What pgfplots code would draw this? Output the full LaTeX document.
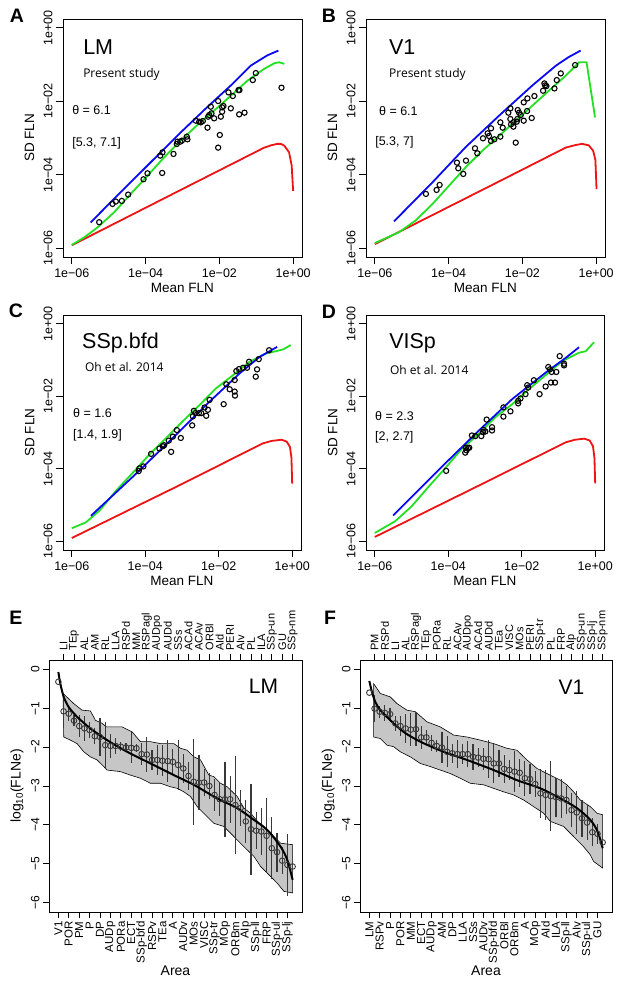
\documentclass[border=0pt]{standalone}
\usepackage{fontspec}
\setmainfont{Liberation Sans}
\newfontfamily\opensans{Open Sans}
\usepackage{pgfplots}
\usepackage{pgfplotstable}
\pgfplotsset{compat=1.18}

\definecolor{rblue}{HTML}{0A0AF0}
\definecolor{rgreen}{HTML}{22E022}
\definecolor{rred}{HTML}{EE1414}
\definecolor{bandgray}{HTML}{C6C6C6}
\definecolor{bargray}{HTML}{383838}

% log10 mean FLN vs log10 SD FLN, one table per panel
\pgfplotstableread{
x y
-5.259 -5.293
-4.898 -4.795
-4.807 -4.731
-4.645 -4.713
-4.473 -4.541
-4.057 -4.124
-3.949 -3.961
-3.551 -3.952
-3.605 -3.480
-3.542 -3.390
-3.244 -3.435
-3.154 -3.163
-3.136 -3.100
-3.063 -3.100
-3.018 -3.073
-2.883 -2.964
-2.865 -3.036
-2.639 -2.529
-2.548 -2.556
-2.503 -2.574
-2.449 -2.538
-2.322 -2.719
-2.304 -2.420
-2.277 -2.375
-2.232 -2.148
-2.214 -2.329
-2.142 -2.465
-2.033 -1.994
-1.988 -2.918
-2.033 -3.263
-1.961 -2.420
-1.925 -2.284
-1.925 -2.166
-1.889 -2.130
-1.753 -1.758
-1.690 -2.193
-1.636 -1.858
-1.482 -1.695
-1.455 -1.695
-1.464 -2.357
-1.319 -2.311
-1.094 -1.423
-1.012 -1.233
-0.316 -1.631
}\ptsA
\pgfplotstableread{
x y
-4.615 -4.523
-4.326 -4.414
-4.244 -4.278
-3.774 -3.671
-3.738 -3.825
-3.602 -3.979
-3.529 -3.616
-3.285 -3.281
-3.222 -3.417
-3.068 -3.009
-2.941 -2.873
-2.905 -2.946
-2.851 -2.737
-2.851 -3.082
-2.760 -3.036
-2.597 -2.574
-2.597 -2.964
-2.534 -2.719
-2.380 -2.311
-2.326 -2.193
-2.326 -2.483
-2.308 -2.628
-2.244 -2.692
-2.244 -2.574
-2.154 -2.556
-2.181 -3.127
-2.136 -2.483
-2.127 -2.239
-2.090 -2.311
-2.045 -2.375
-1.964 -2.030
-1.964 -2.529
-1.864 -1.922
-1.873 -2.266
-1.747 -2.456
-1.674 -1.858
-1.439 -1.713
-1.403 -1.514
-1.385 -1.568
-1.348 -1.586
-1.131 -1.650
-1.068 -1.423
-0.959 -1.242
-0.570 -1.015
}\ptsB
\pgfplotstableread{
x y
-4.179 -4.064
-4.161 -3.991
-4.052 -3.936
-3.842 -3.589
-3.614 -3.443
-3.523 -3.379
-3.487 -3.352
-3.360 -3.224
-3.296 -3.534
-3.250 -3.114
-3.141 -2.932
-3.032 -3.151
-2.722 -2.804
-2.704 -2.557
-2.677 -2.402
-2.631 -2.466
-2.540 -2.466
-2.476 -2.466
-2.385 -2.311
-2.340 -2.539
-2.294 -2.374
-2.249 -2.100
-1.866 -2.219
-1.793 -1.671
-1.702 -1.808
-1.566 -1.553
-1.566 -1.872
-1.557 -1.982
-1.520 -1.306
-1.448 -1.251
-1.338 -1.215
-1.229 -1.215
-1.174 -1.050
-0.992 -1.461
-0.956 -1.260
-0.910 -0.977
-0.628 -0.731
}\ptsC
\pgfplotstableread{
x y
-4.058 -4.058
-3.538 -3.556
-3.520 -3.419
-3.502 -3.492
-3.465 -3.428
-3.429 -3.419
-3.356 -3.082
-3.264 -3.100
-3.100 -3.100
-3.055 -2.991
-3.037 -2.927
-2.991 -2.973
-2.955 -2.644
-2.809 -2.854
-2.809 -2.945
-2.499 -2.307
-2.499 -2.562
-2.307 -2.416
-2.097 -2.198
-2.097 -2.125
-2.034 -2.061
-1.897 -1.942
-1.851 -1.696
-1.824 -1.760
-1.669 -1.559
-1.514 -1.942
-1.350 -1.732
-1.277 -1.194
-1.231 -1.258
-1.204 -1.623
-1.186 -1.331
-1.094 -1.623
-1.058 -1.331
-0.967 -0.894
-0.848 -1.149
-0.848 -1.103
}\ptsD
% rank, log10 FLNe, half length of the bar
\pgfplotstableread{
x y e
1 -0.32 0.00
2 -1.08 0.43
3 -1.14 0.20
4 -1.32 0.15
5 -1.46 0.28
6 -1.52 0.32
7 -1.56 0.20
8 -1.72 0.20
9 -1.74 0.50
10 -1.95 0.60
11 -1.97 0.30
12 -1.97 0.20
13 -1.99 0.12
14 -2.01 0.12
15 -2.02 0.40
16 -2.03 0.10
17 -2.18 0.28
18 -2.19 0.45
19 -2.33 0.26
20 -2.33 0.38
21 -2.35 0.40
22 -2.36 0.53
23 -2.38 0.34
24 -2.46 0.64
25 -2.55 0.38
26 -2.74 0.36
27 -2.89 1.10
28 -2.91 0.70
29 -2.91 0.35
30 -3.00 0.34
31 -3.23 0.40
32 -3.34 0.42
33 -3.34 0.96
34 -3.34 0.60
35 -3.49 1.26
36 -3.57 0.47
37 -3.91 0.55
38 -4.11 1.17
39 -4.15 0.47
40 -4.17 0.60
41 -4.28 0.96
42 -4.60 0.80
43 -4.70 0.50
44 -4.92 0.35
45 -5.03 0.80
46 -5.07 0.00
}\rankLM
\pgfplotstableread{
x y e
1 -0.60 0.00
2 -1.01 0.35
3 -1.09 0.15
4 -1.12 0.20
5 -1.15 0.15
6 -1.39 0.20
7 -1.46 0.25
8 -1.52 0.38
9 -1.55 0.43
10 -1.54 0.43
11 -1.75 0.30
12 -1.75 0.20
13 -1.89 0.20
14 -1.97 0.15
15 -2.01 0.40
16 -2.12 0.40
17 -2.16 0.25
18 -2.18 0.36
19 -2.18 0.25
20 -2.18 0.34
21 -2.25 0.34
22 -2.27 0.25
23 -2.30 0.28
24 -2.31 0.49
25 -2.42 0.49
26 -2.42 0.34
27 -2.56 0.36
28 -2.59 0.26
29 -2.63 0.53
30 -2.66 0.36
31 -2.80 0.45
32 -2.82 0.38
33 -2.95 0.34
34 -3.19 0.64
35 -3.23 0.64
36 -3.26 0.90
37 -3.29 0.50
38 -3.32 0.50
39 -3.36 0.36
40 -3.62 0.43
41 -3.68 0.55
42 -3.83 0.47
43 -3.94 0.45
44 -4.19 0.36
45 -4.23 0.25
46 -4.45 0.00
}\rankVone

\pgfplotsset{
  flnpanel/.style={
    scale only axis, anchor=north west,
    xmin=-6.24, xmax=0.24, ymin=-6.24, ymax=0.24,
    xtick={-6,-4,-2,0}, ytick={-6,-4,-2,0},
    xticklabels={1e−06,1e−04,1e−02,1e+00},
    yticklabels={1e−06,1e−04,1e−02,1e+00},
    tick pos=left, tick align=outside, major tick length=7pt,
    tick style={black, line width=0.8pt},
    axis line style={line width=0.8pt},
    ticklabel style={font=\fontsize{12.5}{14}\selectfont},
    xticklabel style={yshift=-1.5pt},
    yticklabel style={rotate=90, anchor=south},
    label style={font=\fontsize{13.5}{15}\selectfont},
    xlabel={Mean FLN}, ylabel={SD FLN},
    xlabel style={at={(axis description cs:0.5,-0.13)}, anchor=center},
    ylabel style={at={(axis description cs:-0.14,0.5)}, anchor=center},
  },
  curve/.style={#1, line width=1.8pt},
  flnpts/.style={only marks, mark=o, mark size=2.6pt,
    mark options={black, line width=1.1pt}},
  rankpanel/.style={
    scale only axis, anchor=north west,
    xmin=-0.8, xmax=47.8, ymin=-6.24, ymax=0.24,
    ytick={-6,-5,-4,-3,-2,-1,0},
    yticklabels={−6,−5,−4,−3,−2,−1,0},
    xtick={1,3,...,45},
    tick pos=left, tick align=outside, major tick length=6pt,
    tick style={black, line width=0.8pt},
    axis line style={line width=0.8pt},
    xticklabel style={rotate=90, anchor=east, font=\fontsize{11.5}{12}\selectfont},
    yticklabel style={rotate=90, anchor=south, font=\fontsize{12}{13}\selectfont},
    label style={font=\fontsize{14}{16}\selectfont},
    xlabel={Area}, ylabel={log\textsubscript{10}(FLNe)},
    xlabel style={at={(axis description cs:0.5,-0.234)}, anchor=center},
    ylabel style={at={(axis description cs:-0.126,0.5)}, anchor=center},
  },
  toplabels/.style={
    scale only axis, anchor=north west,
    xmin=-0.8, xmax=47.8, ymin=-6.24, ymax=0.24,
    hide y axis, axis x line*=top, axis line style={-, line width=0.8pt},
    xtick={2,4,...,46}, tick align=outside, major tick length=6pt,
    tick style={black, line width=0.8pt},
    xticklabel style={rotate=90, anchor=west, font=\fontsize{11}{12}\selectfont},
  },
  rankpts/.style={only marks, mark=o, mark size=2.8pt,
    mark options={bargray, line width=0.9pt},
    error bars/.cd, y dir=both, y explicit, error mark=none,
    error bar style={bargray, line width=1.2pt}},
}

\begin{document}
\begin{tikzpicture}
\useasboundingbox (0pt,0pt) rectangle (624pt,983pt);

% ---- A
\begin{axis}[flnpanel, at={(63pt,964pt)}, width=239pt, height=238pt]
\addplot[curve=rred] coordinates {(-6.00,-5.92) (-3.00,-4.39) (-0.80,-3.27) (-0.60,-3.20) (-0.43,-3.16) (-0.33,-3.16) (-0.24,-3.21) (-0.11,-3.39) (-0.04,-3.75) (0.00,-4.44)};
\addplot[curve=rgreen] coordinates {(-6.00,-5.91) (-5.67,-5.71) (-5.31,-5.44) (-4.86,-5.03) (-4.41,-4.53) (-3.95,-4.03) (-3.50,-3.53) (-3.05,-3.07) (-2.60,-2.65) (-2.14,-2.25) (-1.69,-1.85) (-1.24,-1.44) (-0.79,-1.12) (-0.50,-0.96) (-0.38,-0.94) (-0.24,-0.98)};
\addplot[curve=rblue] coordinates {(-5.49,-5.30) (-4.86,-4.66) (-3.95,-3.75) (-3.05,-2.85) (-2.33,-2.16) (-1.69,-1.57) (-1.15,-1.03) (-0.70,-0.75) (-0.40,-0.62)};
\addplot[flnpts] table {\ptsA};
\node[anchor=west, inner sep=0pt, font=\fontsize{21.5}{24}\selectfont] at (axis description cs:0.084,0.882) {LM};
\node[anchor=west, inner sep=0pt, font=\opensans\fontsize{12}{14}\selectfont] at (axis description cs:0.084,0.769) {Present study};
\node[anchor=west, inner sep=0pt, font=\fontsize{12.5}{14}\selectfont] at (axis description cs:0.038,0.618) {θ = 6.1};
\node[anchor=west, inner sep=0pt, font=\fontsize{12.5}{14}\selectfont] at (axis description cs:0.038,0.479) {[5.3, 7.1]};
\end{axis}

% ---- B
\begin{axis}[flnpanel, at={(366pt,964pt)}, width=239pt, height=238pt]
\addplot[curve=rred] coordinates {(-6.00,-5.89) (-3.00,-4.37) (-0.82,-3.26) (-0.55,-3.19) (-0.38,-3.16) (-0.20,-3.20) (-0.08,-3.35) (-0.02,-3.60) (0.01,-4.39)};
\addplot[curve=rgreen] coordinates {(-6.00,-5.86) (-5.35,-5.57) (-4.90,-5.25) (-4.44,-4.80) (-3.99,-4.30) (-3.54,-3.80) (-3.09,-3.35) (-2.63,-2.94) (-2.18,-2.53) (-1.73,-2.12) (-1.28,-1.71) (-0.82,-1.30) (-0.60,-1.08) (-0.46,-0.94) (-0.26,-0.94) (-0.03,-2.44)};
\addplot[curve=rblue] coordinates {(-5.48,-5.27) (-4.44,-4.21) (-3.54,-3.25) (-2.63,-2.39) (-1.73,-1.57) (-1.09,-1.03) (-0.75,-0.80) (-0.42,-0.62)};
\addplot[flnpts] table {\ptsB};
\node[anchor=west, inner sep=0pt, font=\fontsize{21.5}{24}\selectfont] at (axis description cs:0.096,0.882) {V1};
\node[anchor=west, inner sep=0pt, font=\opensans\fontsize{12}{14}\selectfont] at (axis description cs:0.096,0.769) {Present study};
\node[anchor=west, inner sep=0pt, font=\fontsize{12.5}{14}\selectfont] at (axis description cs:0.054,0.613) {θ = 6.1};
\node[anchor=west, inner sep=0pt, font=\fontsize{12.5}{14}\selectfont] at (axis description cs:0.038,0.483) {[5.3, 7]};
\end{axis}

% ---- C
\begin{axis}[flnpanel, at={(63pt,668pt)}, width=238pt, height=235pt]
\addplot[curve=rred] coordinates {(-6.00,-5.91) (-3.00,-4.42) (-0.80,-3.30) (-0.55,-3.23) (-0.29,-3.20) (-0.15,-3.25) (-0.06,-3.40) (-0.02,-3.70) (0.00,-4.41)};
\addplot[curve=rgreen] coordinates {(-6.00,-5.64) (-5.62,-5.48) (-5.25,-5.16) (-4.80,-4.61) (-4.34,-4.11) (-3.89,-3.61) (-3.43,-3.15) (-2.98,-2.69) (-2.52,-2.24) (-2.07,-1.78) (-1.61,-1.42) (-1.16,-1.05) (-0.70,-0.82) (-0.25,-0.71) (-0.04,-0.59)};
\addplot[curve=rblue] coordinates {(-5.48,-5.30) (-4.16,-4.05) (-3.16,-3.06) (-2.25,-2.15) (-1.43,-1.37) (-0.88,-0.91) (-0.41,-0.64)};
\addplot[flnpts] table {\ptsC};
\node[anchor=west, inner sep=0pt, font=\fontsize{21.5}{24}\selectfont] at (axis description cs:0.080,0.881) {SSp.bfd};
\node[anchor=west, inner sep=0pt, font=\opensans\fontsize{12}{14}\selectfont] at (axis description cs:0.092,0.779) {Oh et al. 2014};
\node[anchor=west, inner sep=0pt, font=\fontsize{12.5}{14}\selectfont] at (axis description cs:0.042,0.583) {θ = 1.6};
\node[anchor=west, inner sep=0pt, font=\fontsize{12.5}{14}\selectfont] at (axis description cs:0.042,0.489) {[1.4, 1.9]};
\end{axis}

% ---- D
\begin{axis}[flnpanel, at={(366pt,668pt)}, width=238pt, height=235pt]
\addplot[curve=rred] coordinates {(-6.00,-5.88) (-3.00,-4.38) (-0.80,-3.27) (-0.55,-3.20) (-0.30,-3.17) (-0.15,-3.22) (-0.06,-3.38) (-0.02,-3.70) (0.00,-4.40)};
\addplot[curve=rgreen] coordinates {(-6.00,-5.77) (-5.45,-5.45) (-5.00,-5.04) (-4.54,-4.50) (-4.09,-3.99) (-3.63,-3.45) (-3.17,-3.04) (-2.72,-2.58) (-2.26,-2.22) (-1.81,-1.81) (-1.35,-1.42) (-0.89,-1.03) (-0.44,-0.80) (-0.26,-0.76) (-0.03,-0.51)};
\addplot[curve=rblue] coordinates {(-5.50,-5.29) (-4.09,-3.86) (-3.17,-2.95) (-2.26,-2.08) (-1.35,-1.35) (-0.80,-0.94) (-0.44,-0.65)};
\addplot[flnpts] table {\ptsD};
\node[anchor=west, inner sep=0pt, font=\fontsize{21.5}{24}\selectfont] at (axis description cs:0.097,0.881) {VISp};
\node[anchor=west, inner sep=0pt, font=\opensans\fontsize{12}{14}\selectfont] at (axis description cs:0.100,0.766) {Oh et al. 2014};
\node[anchor=west, inner sep=0pt, font=\fontsize{12.5}{14}\selectfont] at (axis description cs:0.038,0.570) {θ = 2.3};
\node[anchor=west, inner sep=0pt, font=\fontsize{12.5}{14}\selectfont] at (axis description cs:0.038,0.481) {[2, 2.7]};
\end{axis}

% ---- E
\begin{axis}[rankpanel, at={(49pt,323pt)}, width=253pt, height=252pt,
  xticklabels={V1,POR,PM,P,DP,AUDp,PORa,ECT,SSp-bfd,RSPv,TEa,A,AUDv,MOs,VISC,SSp-tr,MOp,ORBm,AIp,SSp-ll,FRP,SSp-ul,SSp-lj}]
\addplot[fill=bandgray, draw=black, line width=0.6pt] coordinates {
(1.90,-0.62) (3.95,-0.88) (5.55,-1.05) (7.15,-1.07) (8.12,-1.31) (9.40,-1.39) (10.23,-1.48) (13.24,-1.48) (15.17,-1.61) (16.77,-1.86) (18.69,-1.86) (20.62,-1.91) (23.18,-1.91) (24.46,-2.03) (25.74,-2.08) (27.03,-2.25) (28.31,-2.33) (29.91,-2.72) (30.87,-2.76) (32.15,-2.93) (33.44,-3.02) (35.36,-3.27) (36.64,-3.57) (37.92,-3.70) (39.85,-4.00) (41.77,-4.21) (43.69,-4.47) (46.00,-4.51)
(46.00,-5.75) (44.33,-5.71) (43.05,-5.50) (41.13,-5.24) (39.85,-5.07) (38.56,-4.81) (36.64,-4.56) (34.72,-4.30) (32.79,-4.04) (30.87,-3.96) (29.59,-3.79) (27.67,-3.53) (26.38,-3.27) (25.10,-3.15) (23.82,-3.06) (22.54,-3.02) (20.62,-2.93) (18.69,-2.93) (16.77,-2.80) (14.85,-2.72) (12.92,-2.63) (10.36,-2.59) (9.72,-2.50) (8.44,-2.33) (7.15,-2.25) (5.87,-2.12) (4.59,-1.91) (3.31,-1.82) (2.03,-1.74)} -- cycle;
\addplot[rankpts] table[x=x, y=y, y error=e] {\rankLM};
\addplot[black, line width=2pt, smooth] coordinates {(1,-0.07) (1.38,-0.37) (2.03,-0.71) (2.99,-0.97) (4.59,-1.22) (7.15,-1.52) (10.36,-1.82) (14.21,-2.12) (18.69,-2.42) (23.18,-2.72) (27.03,-2.97) (31.51,-3.32) (35.36,-3.57) (38.56,-3.87) (41.13,-4.13) (43.69,-4.56) (44.97,-4.90) (46,-5.41)};
\node[font=\fontsize{21}{24}\selectfont] at (axis cs:40.4,-0.44) {LM};
\end{axis}
\begin{axis}[toplabels, at={(49pt,323pt)}, width=253pt, height=252pt,
  xticklabels={LI,TEp,AL,AM,RL,LLA,RSPd,MM,RSPagl,AUDpo,AUDd,SSs,ACAd,ACAv,ORBl,AId,PERI,AIv,PL,ILA,SSp-un,GU,SSp-nm}]
\end{axis}

% ---- F
\begin{axis}[rankpanel, at={(360pt,323pt)}, width=252pt, height=252pt,
  xticklabels={LM,RSPv,P,POR,MM,ECT,AUDp,AM,DP,LLA,SSs,AUDv,SSp-bfd,ORBl,ORBm,A,MOp,AId,ILA,SSp-ll,AIv,SSp-ul,GU}]
\addplot[fill=bandgray, draw=black, line width=0.6pt] coordinates {
(1.84,-0.37) (3.12,-0.62) (5.05,-0.71) (6.33,-0.88) (8.26,-1.05) (9.87,-1.09) (12.12,-1.35) (14.69,-1.48) (17.26,-1.69) (19.83,-1.74) (22.40,-1.82) (24.97,-1.91) (27.54,-2.03) (29.47,-2.08) (31.40,-2.33) (33.33,-2.55) (35.26,-2.68) (37.83,-2.85) (39.11,-2.97) (40.40,-3.15) (41.68,-3.36) (43.61,-3.53) (44.90,-3.70) (46.00,-3.74)
(46.00,-5.11) (44.25,-4.94) (43.61,-4.77) (42.32,-4.56) (40.40,-4.30) (38.47,-4.04) (35.90,-3.91) (34.61,-3.70) (32.68,-3.53) (30.76,-3.36) (28.83,-3.23) (26.90,-3.15) (24.97,-3.06) (23.04,-2.97) (20.47,-2.93) (18.54,-2.80) (16.62,-2.68) (14.69,-2.59) (12.76,-2.50) (10.83,-2.42) (8.90,-2.25) (6.97,-2.12) (5.69,-1.99) (4.40,-1.95) (3.12,-1.78) (1.84,-1.74)} -- cycle;
\addplot[rankpts] table[x=x, y=y, y error=e] {\rankVone};
\addplot[black, line width=2pt, smooth] coordinates {(1,-0.30) (1.5,-0.58) (2.16,-0.84) (3.12,-1.05) (5.05,-1.31) (7.62,-1.61) (10.83,-1.86) (15.33,-2.12) (19.83,-2.33) (24.97,-2.59) (29.47,-2.85) (33.97,-3.06) (37.83,-3.32) (41.04,-3.57) (43.61,-3.87) (45.02,-4.17) (46,-4.60)};
\node[font=\fontsize{21}{24}\selectfont] at (axis cs:40.0,-0.46) {V1};
\end{axis}
\begin{axis}[toplabels, at={(360pt,323pt)}, width=252pt, height=252pt,
  xticklabels={PM,RSPd,LI,AL,RSPagl,TEp,PORa,RL,ACAv,AUDpo,ACAd,AUDd,TEa,VISC,MOs,PERI,SSp-tr,PL,FRP,AIp,SSp-un,SSp-lj,SSp-nm}]
\end{axis}

% panel letters
\node[font=\fontsize{19.5}{20}\selectfont\bfseries] at (17pt,967pt) {A};
\node[font=\fontsize{19.5}{20}\selectfont\bfseries] at (329pt,967pt) {B};
\node[font=\fontsize{19.5}{20}\selectfont\bfseries] at (16pt,672pt) {C};
\node[font=\fontsize{19.5}{20}\selectfont\bfseries] at (329pt,671pt) {D};
\node[font=\fontsize{19.5}{20}\selectfont\bfseries] at (16pt,365pt) {E};
\node[font=\fontsize{19.5}{20}\selectfont\bfseries] at (330pt,365pt) {F};
\end{tikzpicture}
\end{document}
